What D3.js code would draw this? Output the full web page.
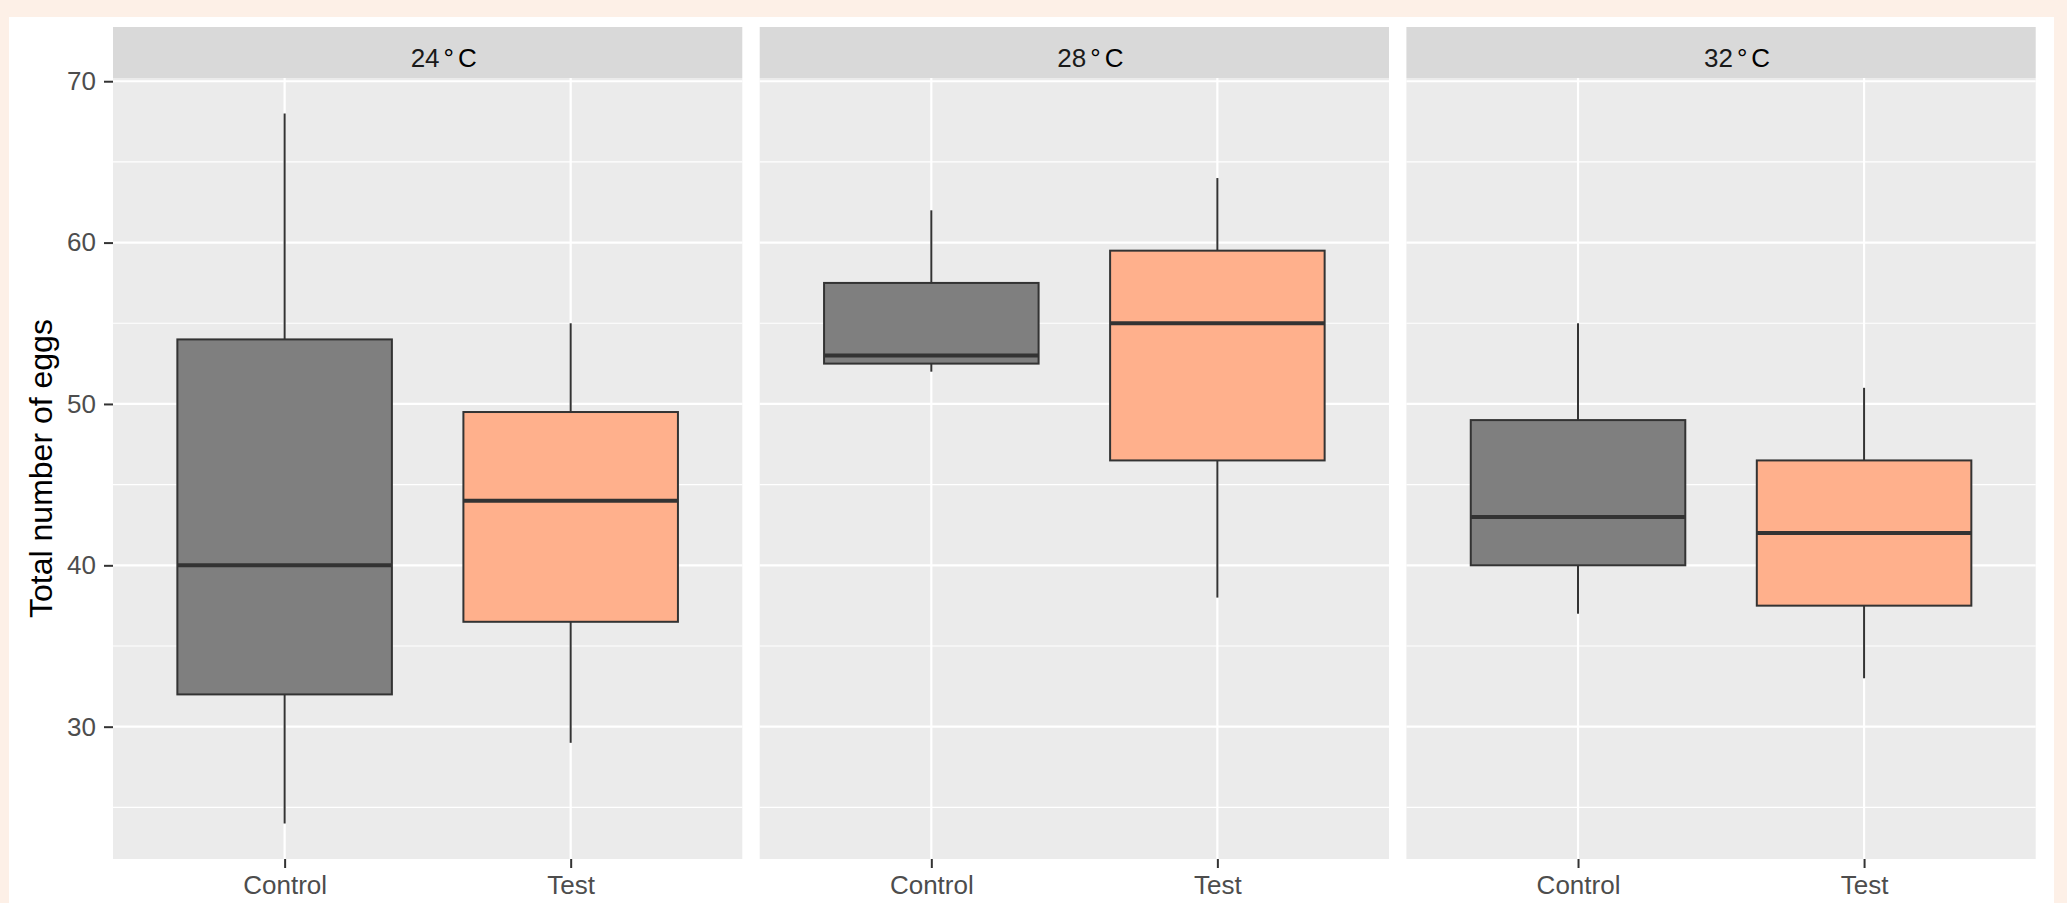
<!DOCTYPE html>
<html>
<head>
<meta charset="utf-8">
<script src="https://cdn.jsdelivr.net/npm/d3@7"></script>
<style>
  html, body { margin: 0; padding: 0; background: #fdf0e7; }
  svg { display: block; }
</style>
</head>
<body>
<div id="chart"></div>
<script>
// facets and groups
const temps = ["24°C", "28°C", "32°C"];
const groups = ["Control", "Test"];

// box statistics per temperature, [Control, Test]
const whiskerLow = [[24, 29], [52, 38], [37, 33]];
const q1 = [[32, 36.5], [52.5, 46.5], [40, 37.5]];
const median = [[40, 44], [53, 55], [43, 42]];
const q3 = [[54, 49.5], [57.5, 59.5], [49, 46.5]];
const whiskerHigh = [[68, 55], [62, 64], [55, 51]];

const yTicks = [30, 40, 50, 60, 70];
const yMinor = [25, 35, 45, 55, 65];
const fills = { Control: "#7f7f7f", Test: "#ffb08c" };

const width = 2067;
const height = 903;

const panelTop = 78;
const panelBottom = 859;
const panelLeft = 113;
const panelWidth = 629.3;
const panelGap = 17.4;
const stripTop = 27;

const svg = d3
  .select("#chart")
  .append("svg")
  .attr("width", width)
  .attr("height", height);

// white plot background inside the peach page
svg
  .append("rect")
  .attr("x", 9)
  .attr("y", 17)
  .attr("width", 2045)
  .attr("height", height - 17)
  .attr("fill", "#ffffff");

// y range with ggplot's 5% expansion
const allVals = whiskerLow.flat().concat(whiskerHigh.flat());
const yMinV = d3.min(allVals);
const yMaxV = d3.max(allVals);
const pad = (yMaxV - yMinV) * 0.05;

const y = d3
  .scaleLinear()
  .domain([yMinV - pad, yMaxV + pad])
  .range([panelBottom, panelTop]);

const x = d3
  .scalePoint()
  .domain(groups)
  .range([0, panelWidth])
  .padding(0.6);

const boxW = x.step() * 0.75;
const font = "'Liberation Sans', Arial, sans-serif";

temps.forEach((t, i) => {
  const left = panelLeft + i * (panelWidth + panelGap);
  const g = svg.append("g").attr("transform", `translate(${left},0)`);

  // panel background
  g.append("rect")
    .attr("x", 0)
    .attr("y", panelTop)
    .attr("width", panelWidth)
    .attr("height", panelBottom - panelTop)
    .attr("fill", "#ebebeb");

  // minor grid
  g.selectAll(".minor")
    .data(yMinor)
    .enter()
    .append("line")
    .attr("x1", 0)
    .attr("x2", panelWidth)
    .attr("y1", d => y(d))
    .attr("y2", d => y(d))
    .attr("stroke", "#ffffff")
    .attr("stroke-width", 1.1);

  // major grid
  g.selectAll(".major")
    .data(yTicks)
    .enter()
    .append("line")
    .attr("x1", 0)
    .attr("x2", panelWidth)
    .attr("y1", d => y(d))
    .attr("y2", d => y(d))
    .attr("stroke", "#ffffff")
    .attr("stroke-width", 2.2);

  g.selectAll(".vgrid")
    .data(groups)
    .enter()
    .append("line")
    .attr("x1", d => x(d))
    .attr("x2", d => x(d))
    .attr("y1", panelTop)
    .attr("y2", panelBottom)
    .attr("stroke", "#ffffff")
    .attr("stroke-width", 2.2);

  // strip
  g.append("rect")
    .attr("x", 0)
    .attr("y", stripTop)
    .attr("width", panelWidth)
    .attr("height", panelTop - stripTop)
    .attr("fill", "#d9d9d9");

  const label = t.replace("°C", "");
  const st = g
    .append("text")
    .attr("x", panelWidth / 2 - 17)
    .attr("y", 66.5)
    .attr("font-family", font)
    .attr("font-size", 26)
    .attr("fill", "#1a1a1a");
  st.append("tspan").text(label);
  st.append("tspan").attr("dx", 4).attr("fill", "#000").text("°");
  st.append("tspan").attr("dx", 4).attr("fill", "#000").text("C");

  // boxes
  groups.forEach((grp, j) => {
    const cx = x(grp);
    // whiskers
    g.append("line")
      .attr("x1", cx)
      .attr("x2", cx)
      .attr("y1", y(whiskerHigh[i][j]))
      .attr("y2", y(q3[i][j]))
      .attr("stroke", "#333333")
      .attr("stroke-width", 2);
    g.append("line")
      .attr("x1", cx)
      .attr("x2", cx)
      .attr("y1", y(q1[i][j]))
      .attr("y2", y(whiskerLow[i][j]))
      .attr("stroke", "#333333")
      .attr("stroke-width", 2);
    // box
    g.append("rect")
      .attr("x", cx - boxW / 2)
      .attr("y", y(q3[i][j]))
      .attr("width", boxW)
      .attr("height", y(q1[i][j]) - y(q3[i][j]))
      .attr("fill", fills[grp])
      .attr("stroke", "#333333")
      .attr("stroke-width", 2);
    // median
    g.append("line")
      .attr("x1", cx - boxW / 2)
      .attr("x2", cx + boxW / 2)
      .attr("y1", y(median[i][j]))
      .attr("y2", y(median[i][j]))
      .attr("stroke", "#333333")
      .attr("stroke-width", 4);
  });

  // x axis
  const xAxis = g
    .append("g")
    .attr("transform", `translate(0,${panelBottom})`)
    .call(d3.axisBottom(x).tickSize(9).tickPadding(8));
  xAxis.select(".domain").remove();
  xAxis.selectAll(".tick line").attr("stroke", "#333333").attr("stroke-width", 2);
  xAxis
    .selectAll(".tick text")
    .attr("font-family", font)
    .attr("font-size", 26)
    .attr("fill", "#4d4d4d");
});

// y axis on the first panel
const yAxis = svg
  .append("g")
  .attr("transform", `translate(${panelLeft},0)`)
  .call(d3.axisLeft(y).tickValues(yTicks).tickSize(9).tickPadding(8));
yAxis.select(".domain").remove();
yAxis.selectAll(".tick line").attr("stroke", "#333333").attr("stroke-width", 2);
yAxis
  .selectAll(".tick text")
  .attr("font-family", font)
  .attr("font-size", 26)
  .attr("fill", "#4d4d4d");

// y title
svg
  .append("text")
  .attr("transform", `translate(52,${(panelTop + panelBottom) / 2}) rotate(-90)`)
  .attr("text-anchor", "middle")
  .attr("font-family", font)
  .attr("font-size", 32)
  .attr("fill", "#000000")
  .text("Total number of eggs");
</script>
</body>
</html>
